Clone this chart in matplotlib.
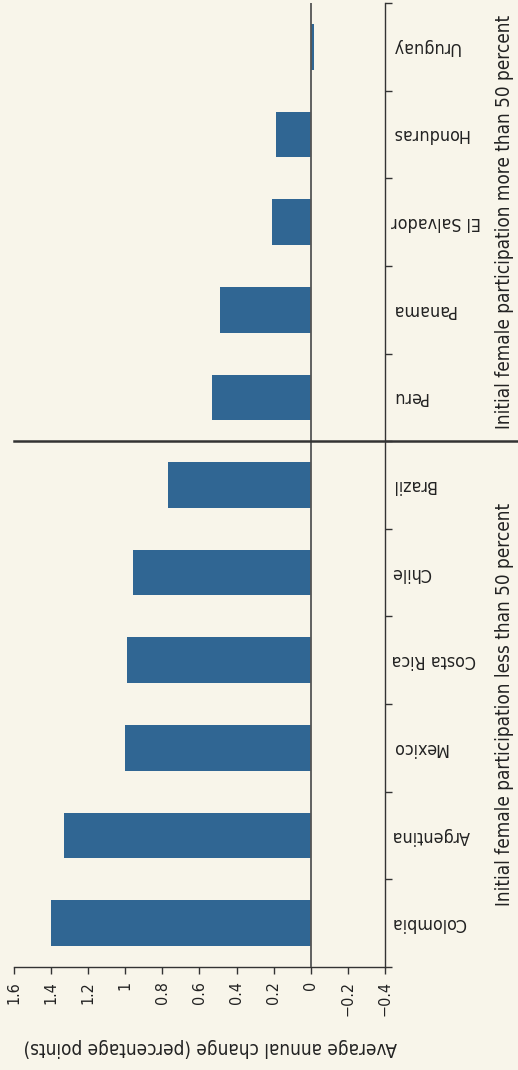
import matplotlib
matplotlib.use('Agg')
import matplotlib.pyplot as plt
import matplotlib.transforms as mtransforms
from matplotlib import font_manager

# datos (de abajo hacia arriba en el grafico)
paises = ['Colombia', 'Argentina', 'Mexico', 'Costa Rica', 'Chile', 'Brazil',
          'Peru', 'Panama', 'El Salvador', 'Honduras', 'Uruguay']
cambio = [1.40, 1.33, 1.00, 0.99, 0.96, 0.77,
          0.53, 0.49, 0.21, 0.185, -0.02]
grupos = ['Initial female participation less than 50 percent',
          'Initial female participation more than 50 percent']
ticks_valor = [-0.4, -0.2, 0, 0.2, 0.4, 0.6, 0.8, 1, 1.2, 1.4, 1.6]
ticks_texto = ['\u22120.4', '\u22120.2', '0', '0.2', '0.4', '0.6', '0.8',
               '1', '1.2', '1.4', '1.6']
xlabel = 'Average annual change (percentage points)'

fondo = '#f8f5ea'
azul = '#306693'
gris = '#333333'

# fuente angosta si esta disponible
nombres = {f.name for f in font_manager.fontManager.ttflist}
if 'Liberation Sans Narrow' in nombres:
    plt.rcParams['font.family'] = ['Liberation Sans Narrow', 'DejaVu Sans']
else:
    plt.rcParams['font.family'] = ['DejaVu Sans']
    plt.rcParams['font.stretch'] = 'condensed'

fig = plt.figure(figsize=(5.18, 10.70), dpi=100, facecolor=fondo)
ax = fig.add_axes([13.8 / 518, 1 - 967 / 1070, (385 - 13.8) / 518, (967 - 3) / 1070])
ax.set_facecolor(fondo)

pos = list(range(len(paises)))
ax.barh(pos, cambio, height=0.52, color=azul, zorder=2)

ax.set_xlim(1.6, -0.4)
ax.set_ylim(-0.5, len(paises) - 0.5)

# linea del cero y separador de grupos
ax.axvline(0, color='#555555', lw=1.3, zorder=3)
ax.axhline(5.5, 0, (518 - 13.8) / (385 - 13.8), color=gris, lw=1.8,
           clip_on=False, zorder=3)

for s in ['left', 'top']:
    ax.spines[s].set_visible(False)
for s in ['bottom', 'right']:
    ax.spines[s].set_color(gris)
    ax.spines[s].set_linewidth(1.0)

# eje de valores
ax.set_xticks(ticks_valor)
ax.set_xticklabels(ticks_texto, rotation=90, fontsize=11.5, color='#222222')
ax.tick_params(axis='x', direction='out', length=5, width=1, color=gris, pad=5)

# eje de categorias (derecha)
ax.yaxis.tick_right()
ax.set_yticks(pos)
ax.set_yticklabels(paises, rotation=180, fontsize=12.8, color='#222222')
ax.set_yticks([p - 0.5 for p in pos] + [len(paises) - 0.5], minor=True)
ax.tick_params(axis='y', which='major', length=0, pad=4.5)
ax.tick_params(axis='y', which='minor', direction='out', length=5, width=1,
               color=gris)
for t in ax.get_yticklabels():
    t.set_ha('left')
    t.set_va('center')

fig.text(210 / 518, 1 - 1048 / 1070, xlabel, rotation=180, ha='center',
         va='center', fontsize=13.6, color='#222222')

trans = mtransforms.blended_transform_factory(fig.transFigure, ax.transData)
ax.text(505 / 518, 2.5, grupos[0], transform=trans, rotation=90, ha='center',
        va='center', fontsize=13.6, color='#222222')
ax.text(505 / 518, 8, grupos[1], transform=trans, rotation=90, ha='center',
        va='center', fontsize=13.6, color='#222222')

fig.savefig('out.png', dpi=100, facecolor=fondo)
